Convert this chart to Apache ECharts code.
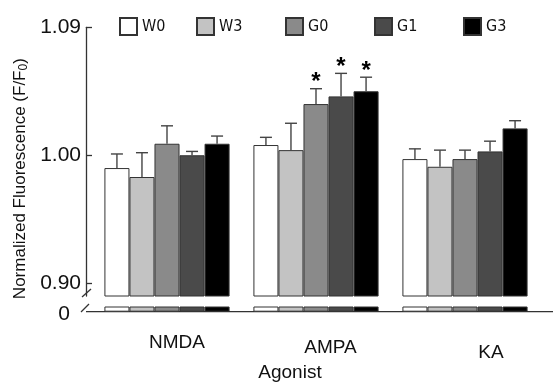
<!DOCTYPE html>
<html>
<head>
<meta charset="utf-8">
<script src="https://cdn.jsdelivr.net/npm/echarts@6/dist/echarts.min.js"></script>
<style>
  html, body { margin: 0; padding: 0; background: #fff; }
  #chart { width: 553px; height: 383px; }
</style>
</head>
<body>
<div id="chart"></div>
<script>
const categories = ['NMDA', 'AMPA', 'KA']
const groups = ['W0', 'W3', 'G0', 'G1', 'G3']

const W0 = [0.990, 1.008, 0.997]
const W3 = [0.983, 1.004, 0.991]
const G0 = [1.009, 1.040, 0.997]
const G1 = [1.000, 1.046, 1.003]
const G3 = [1.009, 1.050, 1.021]

const W0err = [0.011, 0.006, 0.008]
const W3err = [0.019, 0.021, 0.013]
const G0err = [0.014, 0.012, 0.007]
const G1err = [0.003, 0.018, 0.008]
const G3err = [0.006, 0.011, 0.006]

// 1 = marked with * (significant)
const W0sig = [0, 0, 0]
const W3sig = [0, 0, 0]
const G0sig = [0, 1, 0]
const G1sig = [0, 1, 0]
const G3sig = [0, 1, 0]

const tickValues = [0.9, 1.0, 1.1]
const tickLabels = ['0.90', '1.00', '1.09']

const means = [W0, W3, G0, G1, G3]
const errs = [W0err, W3err, G0err, G1err, G3err]
const sigs = [W0sig, W3sig, G0sig, G1sig, G3sig]

const colors = ['#ffffff', '#c3c3c3', '#8a8a8a', '#4a4a4a', '#000000']
const legendLeft = [114, 191, 280, 369, 458]
// small per-label nudges, as in the original figure
const labelPad = [[0, 0, 0, 20], [5, 0, 0, 29], [10, 0, 0, 52]]

const FONT = "'Liberation Sans', Arial, sans-serif"
const NARROW = "'Liberation Sans Narrow', 'Arial Narrow', 'DejaVu Sans Condensed', sans-serif"
const GAP = 0.16

const chart = echarts.init(document.getElementById('chart'))

const barSeries = []
groups.forEach((g, i) => {
  const style = { color: colors[i], borderColor: '#333', borderWidth: 1 }
  barSeries.push({
    name: g, type: 'bar', xAxisIndex: 0, yAxisIndex: 0,
    barGap: '0%', barCategoryGap: GAP * 100 + '%',
    itemStyle: style, data: means[i], z: 2
  })
  barSeries.push({
    name: g, type: 'bar', xAxisIndex: 1, yAxisIndex: 1,
    barGap: '0%', barCategoryGap: GAP * 100 + '%', clip: true,
    itemStyle: style, data: means[i], z: 2
  })
  barSeries.push({
    type: 'custom', xAxisIndex: 0, yAxisIndex: 0, z: 3,
    data: means[i].map((m, k) => [k, m, errs[i][k], sigs[i][k]]),
    renderItem: (params, api) => {
      const base = api.coord([api.value(0), api.value(1)])
      const top = api.coord([api.value(0), api.value(1) + api.value(2)])
      const bw = api.size([1, 0])[0] * (1 - GAP) / groups.length
      const x = base[0] + (i - (groups.length - 1) / 2) * bw
      const line = { stroke: '#444', lineWidth: 1.4 }
      const children = [
        { type: 'line', shape: { x1: x, y1: base[1], x2: x, y2: top[1] }, style: line },
        { type: 'line', shape: { x1: x - 6, y1: top[1], x2: x + 6, y2: top[1] }, style: line }
      ]
      if (api.value(3)) {
        children.push({
          type: 'text',
          style: { text: '*', x: x, y: top[1] + 6, align: 'center', verticalAlign: 'bottom',
            font: 'bold 24px ' + FONT, fill: '#000' }
        })
      }
      return { type: 'group', children }
    }
  })
})

chart.setOption({
  animation: false,
  textStyle: { fontFamily: FONT },
  legend: groups.map((g, i) => ({
    data: [g], left: legendLeft[i], top: 12, icon: 'rect',
    itemWidth: 17, itemHeight: 17, selectedMode: false,
    textStyle: { fontFamily: NARROW, fontSize: 16, color: '#111' }
  })),
  grid: [
    { left: 92.5, right: 13.5, top: 27.3, bottom: 87, outerBoundsMode: 'none' },
    { left: 92.5, right: 13.5, top: 307, height: 4.7, outerBoundsMode: 'none' }
  ],
  xAxis: [
    {
      type: 'category', gridIndex: 0, data: categories,
      axisLine: { show: false }, axisTick: { show: false },
      axisLabel: {
        margin: 37, fontSize: 19, color: '#111',
        formatter: (v, k) => '{c' + k + '|' + v + '}',
        rich: {
          c0: { fontSize: 19, color: '#111', padding: labelPad[0] },
          c1: { fontSize: 19, color: '#111', padding: labelPad[1] },
          c2: { fontSize: 19, color: '#111', padding: labelPad[2] }
        }
      },
      name: 'Agonist', nameLocation: 'middle', nameGap: 67, nameMoveOverlap: false,
      nameTextStyle: { fontSize: 19, color: '#111', padding: [0, 52, 0, 0] }
    },
    { type: 'category', gridIndex: 1, data: categories, show: false }
  ],
  yAxis: [
    {
      type: 'value', gridIndex: 0, min: 0.89, max: 1.10, offset: 6.5,
      splitLine: { show: false },
      axisLine: { show: true, lineStyle: { color: '#333', width: 1.3 } },
      axisTick: { show: true, inside: true, length: 6, customValues: tickValues,
        lineStyle: { color: '#333', width: 1.3 } },
      axisLabel: { customValues: tickValues, margin: 5, fontSize: 21, color: '#111',
        formatter: (v) => tickLabels[tickValues.findIndex((t) => Math.abs(t - v) < 1e-6)] },
      name: '{a|Normalized Fluorescence (F/F}{s|0}{a|)}',
      nameLocation: 'middle', nameGap: 56, nameRotate: 90, nameMoveOverlap: false,
      nameTextStyle: {
        padding: [0, 34, 0, 0],
        rich: {
          a: { fontSize: 17, color: '#111' },
          s: { fontSize: 12, color: '#111', padding: [8, 0, 0, 0] }
        }
      }
    },
    {
      type: 'value', gridIndex: 1, min: 0, max: 0.01, offset: 6.5,
      splitLine: { show: false }, axisLine: { show: false }, axisTick: { show: false },
      axisLabel: { customValues: [0], margin: 16, color: '#111',
        formatter: () => '{z|0}',
        rich: { z: { fontSize: 21, color: '#111', padding: [6, 0, 0, 0] } } }
    }
  ],
  graphic: [
    { type: 'line', shape: { x1: 82, y1: 297, x2: 91, y2: 289 }, style: { stroke: '#333', lineWidth: 1.3 } },
    { type: 'line', shape: { x1: 81, y1: 312, x2: 89, y2: 304 }, style: { stroke: '#333', lineWidth: 1.3 } },
    { type: 'line', shape: { x1: 86, y1: 311.7, x2: 553, y2: 311.7 }, style: { stroke: '#333', lineWidth: 1.3 } }
  ],
  series: barSeries
})
</script>
</body>
</html>
